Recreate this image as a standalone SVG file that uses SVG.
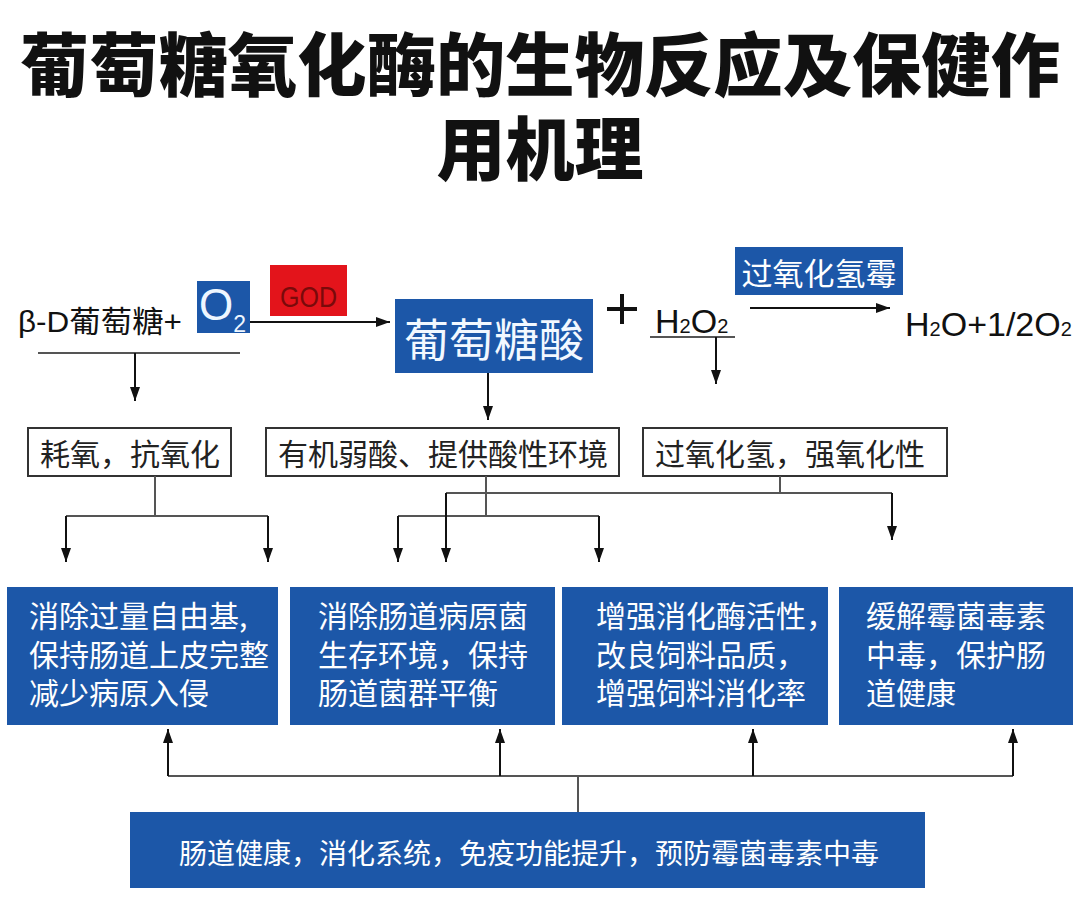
<svg xmlns="http://www.w3.org/2000/svg" width="1080" height="910" viewBox="0 0 1080 910">
<defs>
<marker id="ar" viewBox="0 0 14 10" markerWidth="14" markerHeight="10" refX="14" refY="5" orient="auto" markerUnits="userSpaceOnUse">
<path d="M0,0 L14,5 L0,10 z" fill="#111"/>
</marker>
<style>
.cjk{font-family:"Noto Sans CJK SC","Noto Sans",sans-serif;}
.lat{font-family:"Liberation Sans","Noto Sans CJK SC",sans-serif;}
.title{font-family:"Noto Sans CJK SC",sans-serif;font-weight:900;font-size:69px;fill:#111;text-anchor:middle;}
.blue{fill:#1c57a8;}
.wbox{fill:#fff;stroke:#333;stroke-width:2;}
.wt{fill:#fff;font-size:30px;}
.bt{fill:#222;font-size:30px;}
.ln{fill:none;stroke:#555;stroke-width:2;}
.arr{fill:none;stroke:#111;stroke-width:2;}
.chem{font-size:34px;fill:#111;}
</style>
</defs>
<rect width="1080" height="910" fill="#fff"/>

<g id="title">
<text class="title" x="540" y="91" textLength="1040" lengthAdjust="spacingAndGlyphs">葡萄糖氧化酶的生物反应及保健作</text>
<text class="title" x="540" y="175">用机理</text>
</g>

<g id="glucose">
<text class="lat" x="18" y="332" font-size="30" fill="#111" textLength="164" lengthAdjust="spacingAndGlyphs">β-D<tspan class="cjk">葡萄糖</tspan>+</text>
</g>
<g id="o2">
<rect class="blue" x="197" y="281" width="53" height="52"/>
<text class="lat" x="199" y="320" font-size="44" fill="#eef6ff">O<tspan font-size="23" dy="12">2</tspan></text>
</g>
<g id="god">
<rect x="270" y="265" width="77" height="51" fill="#e3141b"/>
<text class="lat" x="280" y="307" font-size="29" fill="#7a0a0a" textLength="57" lengthAdjust="spacingAndGlyphs">GOD</text>
</g>
<g id="gluconic">
<rect class="blue" x="395" y="299" width="198" height="74"/>
<text class="cjk" x="494" y="337" font-size="45" fill="#f2f8ff" text-anchor="middle" dominant-baseline="central">葡萄糖酸</text>
</g>
<g id="plus">
<path d="M607,309 H637 M622,294 V324" stroke="#111" stroke-width="4"/>
</g>
<g id="h2o2">
<text class="lat chem" x="655" y="333">H<tspan font-size="20">2</tspan>O<tspan font-size="20">2</tspan></text>
</g>
<g id="catalase">
<rect class="blue" x="735" y="247" width="168" height="48"/>
<text class="cjk" x="819" y="271" font-size="31" fill="#fff" text-anchor="middle" dominant-baseline="central">过氧化氢霉</text>
</g>
<g id="products">
<text class="lat chem" x="905" y="336">H<tspan font-size="20">2</tspan>O+1/2O<tspan font-size="20">2</tspan></text>
</g>

<g id="box-antiox">
<rect class="wbox" x="28" y="428" width="203" height="48"/>
<text class="cjk bt" x="40" y="452" dominant-baseline="central">耗氧，抗氧化</text>
</g>
<g id="box-acid">
<rect class="wbox" x="266" y="428" width="353" height="48"/>
<text class="cjk bt" x="278" y="452" dominant-baseline="central">有机弱酸、提供酸性环境</text>
</g>
<g id="box-h2o2">
<rect class="wbox" x="643" y="428" width="304" height="48"/>
<text class="cjk bt" x="655" y="452" dominant-baseline="central">过氧化氢，强氧化性</text>
</g>

<g id="eff1">
<rect class="blue" x="7" y="587" width="271" height="138"/>
<text class="cjk wt" x="29" dominant-baseline="central"><tspan x="29" y="614">消除过量自由基,</tspan><tspan x="29" y="653">保持肠道上皮完整</tspan><tspan x="29" y="691">减少病原入侵</tspan></text>
</g>
<g id="eff2">
<rect class="blue" x="290" y="587" width="265" height="138"/>
<text class="cjk wt" x="318" dominant-baseline="central"><tspan x="318" y="614">消除肠道病原菌</tspan><tspan x="318" y="653">生存环境，保持</tspan><tspan x="318" y="691">肠道菌群平衡</tspan></text>
</g>
<g id="eff3">
<rect class="blue" x="562" y="587" width="266" height="138"/>
<text class="cjk wt" x="596" dominant-baseline="central"><tspan x="596" y="614">增强消化酶活性，</tspan><tspan x="596" y="653">改良饲料品质，</tspan><tspan x="596" y="691">增强饲料消化率</tspan></text>
</g>
<g id="eff4">
<rect class="blue" x="839" y="587" width="234" height="138"/>
<text class="cjk wt" x="866" dominant-baseline="central"><tspan x="866" y="614">缓解霉菌毒素</tspan><tspan x="866" y="653">中毒，保护肠</tspan><tspan x="866" y="691">道健康</tspan></text>
</g>

<g id="summary">
<rect class="blue" x="130" y="812" width="795" height="76"/>
<text class="cjk" x="529" y="852" font-size="28" fill="#fff" text-anchor="middle" dominant-baseline="central">肠道健康，消化系统，免疫功能提升，预防霉菌毒素中毒</text>
</g>

<g id="connectors">
<line x1="250" y1="322" x2="390" y2="322" class="arr" marker-end="url(#ar)"/>
<line x1="750" y1="308" x2="890" y2="308" class="arr" marker-end="url(#ar)"/>
<line x1="38" y1="353" x2="240" y2="353" class="ln" stroke="#666"/>
<line x1="135" y1="353" x2="135" y2="401" class="arr" marker-end="url(#ar)"/>
<line x1="488" y1="373" x2="488" y2="420" class="arr" marker-end="url(#ar)"/>
<line x1="650" y1="337" x2="735" y2="337" class="ln" stroke="#666"/>
<line x1="716" y1="337" x2="716" y2="384" class="arr" marker-end="url(#ar)"/>

<path class="ln" d="M155,476 V516 M66,516 H268"/>
<line x1="66" y1="516" x2="66" y2="562" class="arr" marker-end="url(#ar)"/>
<line x1="268" y1="516" x2="268" y2="562" class="arr" marker-end="url(#ar)"/>

<path class="ln" d="M486,476 V516 M398,516 H599"/>
<line x1="398" y1="516" x2="398" y2="562" class="arr" marker-end="url(#ar)"/>
<line x1="599" y1="516" x2="599" y2="562" class="arr" marker-end="url(#ar)"/>

<path class="ln" d="M780,476 V493 M446,493 H892"/>
<line x1="446" y1="493" x2="446" y2="562" class="arr" marker-end="url(#ar)"/>
<line x1="892" y1="493" x2="892" y2="540" class="arr" marker-end="url(#ar)"/>

<path class="ln" d="M578,812 V776 M168,776 H1013"/>
<line x1="168" y1="776" x2="168" y2="729" class="arr" marker-end="url(#ar)"/>
<line x1="500" y1="776" x2="500" y2="729" class="arr" marker-end="url(#ar)"/>
<line x1="753" y1="776" x2="753" y2="729" class="arr" marker-end="url(#ar)"/>
<line x1="1013" y1="776" x2="1013" y2="729" class="arr" marker-end="url(#ar)"/>
</g>
</svg>
